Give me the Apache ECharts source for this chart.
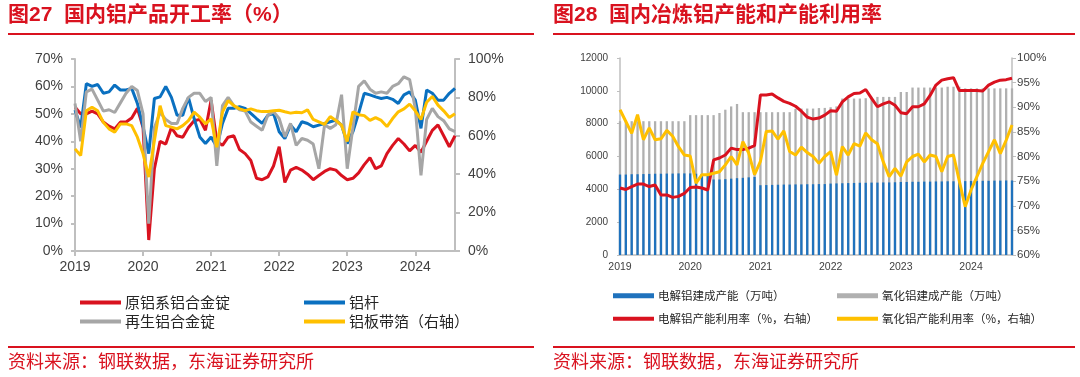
<!DOCTYPE html>
<html>
<head>
<meta charset="utf-8">
<script src="https://cdn.jsdelivr.net/npm/echarts@6/dist/echarts.min.js"></script>
<style>
  html, body { margin: 0; padding: 0; background: #fff; }
  #main { width: 1080px; height: 377px; }
</style>
</head>
<body>
<div id="main"></div>
<script>
// months, Jan 2019 - Aug 2024
const months = [
  '2019-01', '2019-02', '2019-03', '2019-04', '2019-05', '2019-06', '2019-07', '2019-08', '2019-09', '2019-10', '2019-11', '2019-12',
  '2020-01', '2020-02', '2020-03', '2020-04', '2020-05', '2020-06', '2020-07', '2020-08', '2020-09', '2020-10', '2020-11', '2020-12',
  '2021-01', '2021-02', '2021-03', '2021-04', '2021-05', '2021-06', '2021-07', '2021-08', '2021-09', '2021-10', '2021-11', '2021-12',
  '2022-01', '2022-02', '2022-03', '2022-04', '2022-05', '2022-06', '2022-07', '2022-08', '2022-09', '2022-10', '2022-11', '2022-12',
  '2023-01', '2023-02', '2023-03', '2023-04', '2023-05', '2023-06', '2023-07', '2023-08', '2023-09', '2023-10', '2023-11', '2023-12',
  '2024-01', '2024-02', '2024-03', '2024-04', '2024-05', '2024-06', '2024-07', '2024-08'
]

// 图27 开工率 (%)
const primaryAlloy = [
  52.5, 50, 50, 51, 50, 47, 45.5, 44.5, 47, 47, 48.5, 52,
  45, 4, 30, 40, 39, 45, 42, 41.5, 45, 47.5, 48, 44,
  55, 40, 38.5, 41.5, 42, 37, 35.5, 33, 26.5, 26, 27, 31,
  38, 25, 29.5, 30.5, 29.5, 28, 26, 27.5, 29, 30, 29.5, 27.5,
  26, 26.5, 28.5, 31.5, 34, 30, 31, 35.5, 38.5, 41, 39, 36.5,
  38.5, 36, 40, 44, 46, 42, 38, 42
]
const rod = [
  51.4, 45, 61, 60, 60.7, 57.5, 58, 60.5, 58.7, 58.7, 59.3, 53.8,
  45.3, 35.5, 55.6, 56.2, 60, 56, 49.5, 49.5, 56, 48.3, 41.6, 39.2,
  41.6, 38, 46.5, 52, 52, 52.6, 52, 50.2, 48.3, 46.5, 49.5, 50.2,
  43.5, 41, 45.9, 43.5, 47.1, 46.5, 45.3, 45.9, 46.5, 47.1, 47.7, 45.9,
  39.2, 43.5, 50.2, 57.5, 56.9, 56.2, 55.6, 56, 55.3, 53.8, 56.9, 58,
  55, 44.7, 58.7, 57.5, 55, 55, 57.5, 59.3
]
const secondaryAlloy = [
  53.8, 40, 58, 59, 55, 51, 51.5, 50.5, 54, 57.5, 60, 58.5,
  50, 10, 45, 50.5, 48, 46.5, 46.5, 52, 56, 57.5, 57.5, 54.5,
  56, 31, 53, 56, 53, 51.5, 51, 47, 45.5, 44, 49.5, 50.8,
  48.3, 41.6, 46.5, 38.5, 41, 40.4, 39, 30, 46, 44.7, 46, 57,
  30, 45, 60, 62, 59, 57.5, 58, 57.5, 60, 61, 63.5, 62.5,
  52, 27.6, 48, 52, 49, 47.5, 44.5, 43.5
]
const sheetFoil = [
  53.2, 49.7, 73, 74.9, 73, 67, 63.6, 61.9, 66.2, 66.2, 65.3, 59.3,
  50.6, 38.5, 57.5, 75.7, 65.3, 64.5, 63.6, 65.3, 67.9, 72.3, 69.7, 66.2,
  68.8, 54, 72.3, 78.3, 75.7, 74, 73.1, 74, 73.1, 72.6, 72.6, 73,
  73.3, 72.5, 71.8, 72.3, 72, 73.5, 68.5, 67.3, 66, 70, 68, 65.5,
  57, 72.5, 71, 70.5, 68, 69.5, 68, 64.8, 69, 72.5, 74, 76.5,
  73, 68.5, 77.5, 80.5, 76, 73, 69.5, 71.5
]

// 图28 产能 (万吨) 和 利用率 (%)
const electroCap = [
  4900, 4900, 4920, 4920, 4930, 4940, 4950, 4950, 4960, 4960, 4970, 4970,
  4970, 4950, 4930, 4900, 4600, 4600, 4620, 4650, 4680, 4700, 4730, 4750,
  4250, 4260, 4270, 4280, 4290, 4290, 4300, 4300, 4310, 4310, 4320, 4320,
  4350, 4360, 4370, 4380, 4390, 4400, 4400, 4410, 4410, 4420, 4420, 4430,
  4450, 4450, 4460, 4460, 4470, 4470, 4480, 4480, 4490, 4490, 4500, 4500,
  4510, 4510, 4520, 4520, 4530, 4530, 4540, 4540
]
const aluminaCap = [
  8150, 8150, 8150, 8150, 8150, 8150, 8150, 8150, 8150, 8150, 8150, 8150,
  8520, 8520, 8520, 8520, 8520, 8650, 8850, 9050, 9200, 8700, 8700, 8700,
  8700, 8700, 8700, 8700, 8700, 8700, 8900, 8920, 8920, 8920, 8950, 8960,
  9000, 9050, 9530, 9530, 9530, 9530, 9550, 9630, 9630, 9630, 9630, 9630,
  9930, 9930, 10200, 10200, 10200, 10200, 10200, 10200, 10250, 10250, 10250, 10150,
  10150, 10150, 10150, 10150, 10150, 10150, 10150, 10150
]
const electroRate = [
  73.6, 73.3, 73.9, 74.4, 74.4, 73.9, 74.2, 72.2, 72.2, 71.7, 71.9, 72.5,
  73.7, 73.8, 73.6, 73.2, 79.3, 79.7, 80.3, 81.7, 81.4, 81.4, 81.7, 82.2,
  92.5, 92.5, 92.7, 91.9, 91.2, 90.8, 90.2, 89.2, 88, 87.6, 87.8, 88.4,
  89.3, 89.2, 91.1, 92.1, 92.8, 92.9, 93.6, 91.8, 90.1, 90.7, 91.1, 90.4,
  88.9, 88.7, 90.1, 90.1, 90.7, 92.4, 94.5, 95.5, 95.8, 96, 93.4, 93.4,
  93.4, 93.4, 93.3, 94.5, 95.1, 95.5, 95.6, 95.9
]
const aluminaRate = [
  89.5, 87.1, 84.7, 88.5, 83.4, 85.8, 83.4, 83.6, 85.3, 84.1, 82, 80.3,
  80.1, 74.6, 76.3, 76.3, 76.6, 76.9, 78.3, 80, 78.3, 83, 80.7, 76.3,
  79, 85.1, 85.2, 83.5, 85.2, 81, 80.3, 81.9, 80.8, 80, 78.6, 80,
  81, 76.2, 82, 80.3, 82.6, 82.1, 84.8, 83.4, 82.6, 78.9, 75.9, 77.6,
  76, 78.9, 80, 80.5, 78.9, 80.3, 80, 76.9, 80, 80.3, 75, 69.8,
  73.2, 75.9, 78.6, 81, 83.4, 80.6, 83.3, 86.4
]

const RED = '#d9121f'
const BLUE = '#0a70c0'
const GRAY = '#a6a6a6'
const YELLOW = '#ffc000'
const AXIS = '#bfbfbf'
const LABEL = '#404040'
const FONT = '"Liberation Sans", "Noto Sans CJK SC", sans-serif'
const CJK = '"Noto Sans CJK SC", sans-serif'

const isYearStart = (idx, val) => String(val).slice(5) === '01'

function makeLegend(name, left, top, size, h) {
  return {
    data: [name],
    left: left,
    top: top,
    padding: 0,
    icon: 'rect',
    itemWidth: 41,
    itemHeight: h,
    selectedMode: false,
    textStyle: { fontSize: size, color: '#262626', fontFamily: CJK, padding: [0, 0, 0, -1] }
  }
}

const chart = echarts.init(document.getElementById('main'), null, { renderer: 'canvas' })

const option = {
  backgroundColor: '#fff',
  animation: false,
  title: [
    { text: '图27  国内铝产品开工率（%）', left: 8, top: 5, padding: 0,
      textStyle: { fontSize: 21, fontWeight: 'bold', color: RED, fontFamily: FONT } },
    { text: '图28  国内冶炼铝产能和产能利用率', left: 553, top: 5, padding: 0,
      textStyle: { fontSize: 21, fontWeight: 'bold', color: RED, fontFamily: FONT } },
    { text: '资料来源：钢联数据，东海证券研究所', left: 8, top: 352, padding: 0,
      textStyle: { fontSize: 18, fontWeight: 'normal', color: RED, fontFamily: CJK } },
    { text: '资料来源：钢联数据，东海证券研究所', left: 553, top: 352, padding: 0,
      textStyle: { fontSize: 18, fontWeight: 'normal', color: RED, fontFamily: CJK } }
  ],
  graphic: [
    { type: 'line', shape: { x1: 8, y1: 34, x2: 534, y2: 34 }, style: { stroke: RED, lineWidth: 2 } },
    { type: 'line', shape: { x1: 553, y1: 34, x2: 1075, y2: 34 }, style: { stroke: RED, lineWidth: 2 } },
    { type: 'line', shape: { x1: 8, y1: 347, x2: 534, y2: 347 }, style: { stroke: RED, lineWidth: 2 } },
    { type: 'line', shape: { x1: 553, y1: 347, x2: 1075, y2: 347 }, style: { stroke: RED, lineWidth: 2 } }
  ],
  legend: [
    makeLegend('原铝系铝合金锭', 80, 295, 15, 4),
    makeLegend('铝杆', 304, 295, 15, 4),
    makeLegend('再生铝合金锭', 80, 314, 15, 4),
    makeLegend('铝板带箔（右轴）', 304, 314, 15, 4),
    makeLegend('电解铝建成产能（万吨）', 613, 290, 11.5, 5),
    makeLegend('氧化铝建成产能（万吨）', 837, 290, 11.5, 5),
    makeLegend('电解铝产能利用率（%，右轴）', 613, 313, 11.5, 4),
    makeLegend('氧化铝产能利用率（%，右轴）', 837, 313, 11.5, 4)
  ],
  grid: [
    { left: 75, top: 59, width: 380, height: 192 },
    { left: 620, top: 58, width: 392, height: 197 }
  ],
  xAxis: [
    {
      type: 'category',
      gridIndex: 0,
      data: months,
      boundaryGap: false,
      axisLine: { lineStyle: { color: AXIS, width: 2 } },
      axisTick: { show: true, interval: isYearStart, length: 5, lineStyle: { color: AXIS, width: 2 } },
      axisLabel: {
        interval: isYearStart,
        formatter: v => v.slice(0, 4),
        margin: 9,
        fontSize: 14,
        color: LABEL,
        fontFamily: FONT
      },
      splitLine: { show: false }
    },
    {
      type: 'category',
      gridIndex: 1,
      data: months,
      boundaryGap: false,
      axisLine: { lineStyle: { color: AXIS, width: 1.5 } },
      axisTick: { show: false },
      axisLabel: {
        interval: isYearStart,
        formatter: v => v.slice(0, 4),
        margin: 7,
        fontSize: 10.5,
        color: LABEL,
        fontFamily: FONT
      },
      splitLine: { show: false }
    }
  ],
  yAxis: [
    {
      type: 'value',
      gridIndex: 0,
      min: 0,
      max: 70,
      interval: 10,
      axisLine: { show: true, lineStyle: { color: AXIS, width: 2 } },
      axisTick: { show: true, length: 4, lineStyle: { color: AXIS, width: 2 } },
      axisLabel: { formatter: '{value}%', margin: 12, fontSize: 14, color: LABEL, fontFamily: FONT },
      splitLine: { show: false }
    },
    {
      type: 'value',
      gridIndex: 0,
      position: 'right',
      min: 0,
      max: 100,
      interval: 20,
      axisLine: { show: true, lineStyle: { color: AXIS, width: 2 } },
      axisTick: { show: true, length: 5, lineStyle: { color: AXIS, width: 2 } },
      axisLabel: { formatter: '{value}%', margin: 13, fontSize: 14, color: LABEL, fontFamily: FONT },
      splitLine: { show: false }
    },
    {
      type: 'value',
      gridIndex: 1,
      min: 0,
      max: 12000,
      interval: 2000,
      axisLine: { show: true, lineStyle: { color: AXIS, width: 1.5 } },
      axisTick: { show: true, length: 3, lineStyle: { color: AXIS } },
      axisLabel: { formatter: v => String(v), margin: 12, fontSize: 10, color: LABEL, fontFamily: FONT },
      splitLine: { show: false }
    },
    {
      type: 'value',
      gridIndex: 1,
      position: 'right',
      min: 60,
      max: 100,
      interval: 5,
      axisLine: { show: true, lineStyle: { color: AXIS, width: 1.5 } },
      axisTick: { show: true, length: 4, lineStyle: { color: AXIS } },
      axisLabel: { formatter: '{value}%', margin: 5, fontSize: 11.5, color: LABEL, fontFamily: FONT },
      splitLine: { show: false }
    }
  ],
  series: [
    {
      name: '原铝系铝合金锭', type: 'line', xAxisIndex: 0, yAxisIndex: 0,
      data: primaryAlloy, symbol: 'none', itemStyle: { color: RED },
      lineStyle: { color: RED, width: 3 }
    },
    {
      name: '铝杆', type: 'line', xAxisIndex: 0, yAxisIndex: 0,
      data: rod, symbol: 'none', itemStyle: { color: BLUE },
      lineStyle: { color: BLUE, width: 3 }
    },
    {
      name: '再生铝合金锭', type: 'line', xAxisIndex: 0, yAxisIndex: 0,
      data: secondaryAlloy, symbol: 'none', itemStyle: { color: GRAY },
      lineStyle: { color: GRAY, width: 3 }
    },
    {
      name: '铝板带箔（右轴）', type: 'line', xAxisIndex: 0, yAxisIndex: 1,
      data: sheetFoil, symbol: 'none', itemStyle: { color: YELLOW },
      lineStyle: { color: YELLOW, width: 3 }
    },
    {
      name: '氧化铝建成产能（万吨）', type: 'bar', xAxisIndex: 1, yAxisIndex: 2,
      data: aluminaCap, barWidth: 2.3, barGap: '-100%', itemStyle: { color: '#b0b0b0' }
    },
    {
      name: '电解铝建成产能（万吨）', type: 'bar', xAxisIndex: 1, yAxisIndex: 2,
      data: electroCap, barWidth: 2.3, barGap: '-100%', itemStyle: { color: '#1f72bd' }
    },
    {
      name: '电解铝产能利用率（%，右轴）', type: 'line', xAxisIndex: 1, yAxisIndex: 3,
      data: electroRate, symbol: 'none', itemStyle: { color: RED },
      lineStyle: { color: RED, width: 3 }
    },
    {
      name: '氧化铝产能利用率（%，右轴）', type: 'line', xAxisIndex: 1, yAxisIndex: 3,
      data: aluminaRate, symbol: 'none', itemStyle: { color: YELLOW },
      lineStyle: { color: YELLOW, width: 3 }
    }
  ]
}

chart.setOption(option)
</script>
</body>
</html>
